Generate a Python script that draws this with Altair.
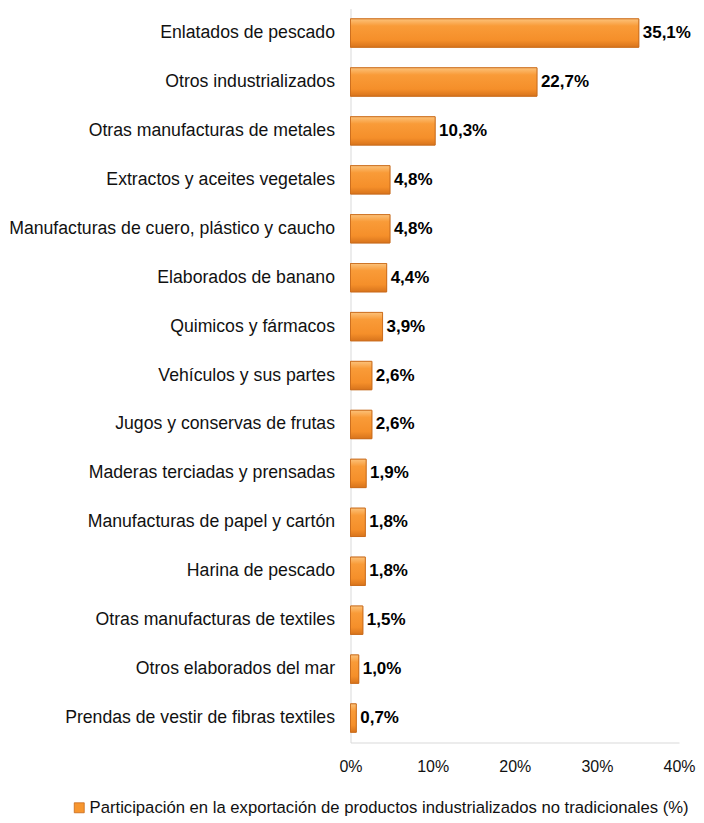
import altair as alt
import pandas as pd

categorias = [
    "Enlatados de pescado",
    "Otros industrializados",
    "Otras manufacturas de metales",
    "Extractos y aceites vegetales",
    "Manufacturas de cuero, plástico y caucho",
    "Elaborados de banano",
    "Quimicos y fármacos",
    "Vehículos y sus partes ",
    "Jugos y conservas de frutas",
    "Maderas terciadas y prensadas ",
    "Manufacturas de papel y cartón",
    "Harina de pescado",
    "Otras manufacturas de textiles",
    "Otros elaborados del mar",
    "Prendas de vestir de fibras textiles",
]
valores = [35.1, 22.7, 10.3, 4.8, 4.8, 4.4, 3.9, 2.6, 2.6, 1.9, 1.8, 1.8, 1.5, 1.0, 0.7]
serie = "Participación en la exportación de productos industrializados no tradicionales (%)"

df = pd.DataFrame({
    "categoria": categorias,
    "valor": valores,
    "etiqueta": [f"{v:.1f}%".replace(".", ",") for v in valores],
    "serie": [serie] * len(categorias),
})

FONT = "Liberation Sans"

y_enc = alt.Y("categoria:N", sort=categorias, title=None,
              scale=alt.Scale(paddingInner=0.42, paddingOuter=0.21),
              axis=alt.Axis(labelFontSize=17.7, labelFont=FONT, labelColor="#111111",
                            ticks=False, domainColor="#d9d9d9", labelPadding=16,
                            labelLimit=400))

x_enc = alt.X("valor:Q", title=None,
              scale=alt.Scale(domain=[0, 40]),
              axis=alt.Axis(values=[0, 10, 20, 30, 40], labelExpr="datum.value + '%'",
                            labelFontSize=16, labelFont=FONT, labelColor="#111111",
                            labelFlush=False, labelOverlap=False,
                            ticks=False, grid=False, domainColor="#d9d9d9",
                            labelPadding=16))

# base layer: carries the legend
base = alt.Chart(df).mark_bar(stroke="#C8691A", strokeWidth=0.8).encode(
    x=x_enc,
    y=y_enc,
    fill=alt.Fill("serie:N", scale=alt.Scale(range=["#F7962F"]),
                  legend=alt.Legend(title=None, orient="none", legendX=-280, legendY=792,
                                    symbolType="square", symbolSize=100, labelOffset=2,
                                    symbolStrokeColor="#C8691A", symbolStrokeWidth=0.8,
                                    labelFontSize=16.7, labelFont=FONT, labelColor="#111111",
                                    labelLimit=700)),
)

# gradient overlay
bars = alt.Chart(df).mark_bar(
    color=alt.Gradient(
        gradient="linear", x1=0, x2=0, y1=0, y2=1,
        stops=[alt.GradientStop(offset=0, color="#FCC27A"),
               alt.GradientStop(offset=0.25, color="#F99B38"),
               alt.GradientStop(offset=0.75, color="#F58F2A"),
               alt.GradientStop(offset=1, color="#D8741C")]),
    stroke="#C8691A", strokeWidth=0.8,
).encode(
    x="valor:Q",
    y=alt.Y("categoria:N", sort=categorias),
)

labels = alt.Chart(df).mark_text(
    align="left", baseline="middle", dx=4, font=FONT, fontSize=17,
    fontWeight="bold", color="#000000",
).encode(
    x="valor:Q",
    y=alt.Y("categoria:N", sort=categorias),
    text="etiqueta:N",
)

chart = alt.layer(base, bars, labels).properties(
    width=329, height=735, padding=0, background="#ffffff",
).configure_view(stroke=None)

chart.save("out.html", embed_options={"renderer": "svg", "actions": False})
